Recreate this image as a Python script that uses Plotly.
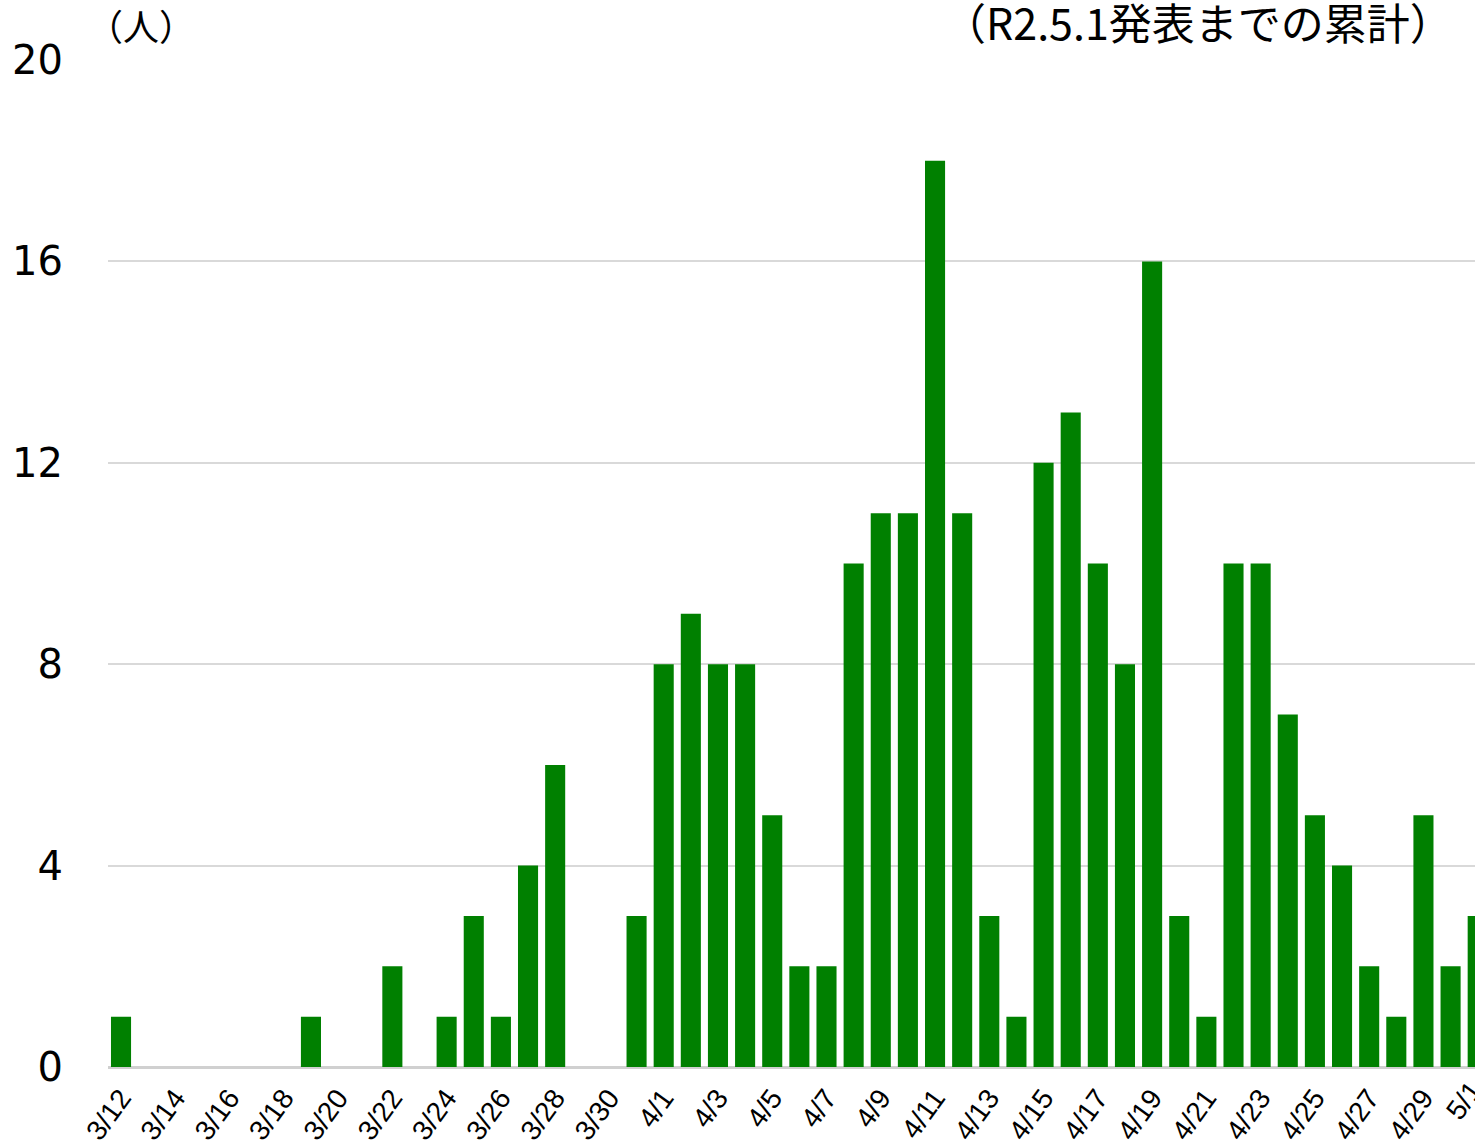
import plotly.graph_objects as go

dates = ["3/12","3/13","3/14","3/15","3/16","3/17","3/18","3/19","3/20","3/21",
         "3/22","3/23","3/24","3/25","3/26","3/27","3/28","3/29","3/30","3/31",
         "4/1","4/2","4/3","4/4","4/5","4/6","4/7","4/8","4/9","4/10",
         "4/11","4/12","4/13","4/14","4/15","4/16","4/17","4/18","4/19","4/20",
         "4/21","4/22","4/23","4/24","4/25","4/26","4/27","4/28","4/29","4/30","5/1"]
cases = [1,0,0,0,0,0,0,1,0,0,
         2,0,1,3,1,4,6,0,0,3,
         8,9,8,8,5,2,2,10,11,11,
         18,11,3,1,12,13,10,8,16,3,
         1,10,10,7,5,4,2,1,5,2,3]
y_ticks = [0, 4, 8, 12, 16, 20]
unit_label = "（人）"
title_text = "（R2.5.1発表までの累計）"

x_range = [-0.48, 49.9]
tick_angle = -54
tick_font = dict(family="Liberation Sans, Arial, sans-serif", size=28, color="black")

fig = go.Figure(go.Bar(
    x=dates, y=cases,
    marker=dict(color="#008000", line=dict(width=0)),
))

fig.update_layout(
    width=1475, height=1144,
    margin=dict(l=108, r=0, t=60, b=77, autoexpand=False),
    plot_bgcolor="white", paper_bgcolor="white",
    bargap=0.26,
    showlegend=False,
    font=dict(family="DejaVu Sans, Verdana, sans-serif", color="black"),
)
fig.update_xaxes(
    type="category",
    range=x_range,
    tickvals=dates[::2], ticktext=dates[::2],
    tickangle=tick_angle,
    tickfont=tick_font,
    showgrid=False, showline=False, ticks="", automargin=False,
    ticklabelstandoff=8,
)
fig.update_yaxes(
    range=[0, 20],
    tickvals=y_ticks,
    tickfont=dict(size=40, color="black"),
    showgrid=True, gridcolor="#d9d9d9", gridwidth=2,
    zeroline=True, zerolinecolor="#d0d0d0", zerolinewidth=3,
    showline=False, ticks="", ticklabelstandoff=44, automargin=False,
)

# last category label lies just beyond the visible range (partly cut off, as in the original)
last_idx = len(dates) - 1
last_pos = (last_idx - x_range[0]) / (x_range[1] - x_range[0])
fig.add_annotation(
    text=dates[last_idx], xref="paper", yref="paper", x=last_pos, y=0,
    xshift=-14, yshift=-33, xanchor="center", yanchor="middle",
    textangle=tick_angle, showarrow=False, font=tick_font,
)

fig.add_annotation(
    text=unit_label, xref="paper", yref="paper", x=0, y=1, xshift=33, yshift=35,
    xanchor="center", yanchor="middle", showarrow=False,
    font=dict(family="Noto Sans CJK JP", size=36, color="black"),
)
fig.add_annotation(
    text=title_text, xref="paper", yref="paper", x=1, y=1, xshift=-20, yshift=39,
    xanchor="right", yanchor="middle", showarrow=False,
    font=dict(family="Noto Sans CJK JP", size=43, color="black"),
)

fig.write_html(
    "out.html",
    config={"displayModeBar": False},
    default_width="1475px", default_height="1144px",
    post_script="document.body.style.margin='0px'; document.body.style.overflow='hidden';",
)
